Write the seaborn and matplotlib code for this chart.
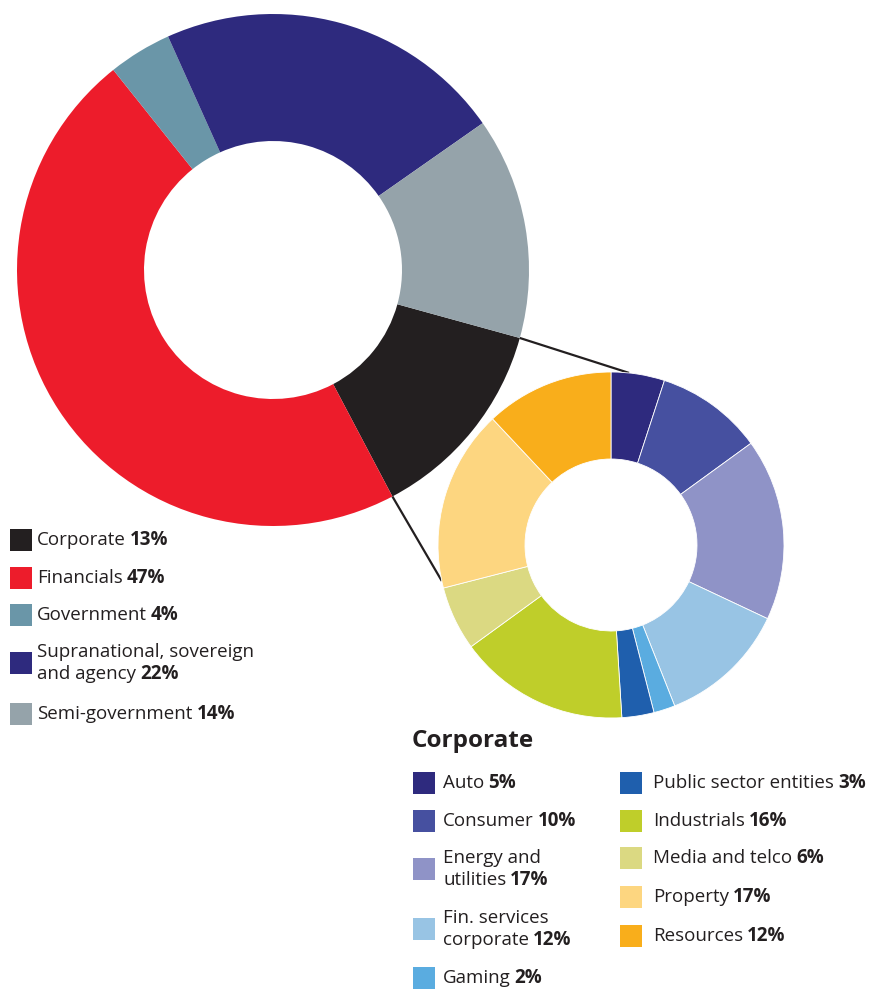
import numpy as np
import matplotlib
matplotlib.use('Agg')
import matplotlib.pyplot as plt
from matplotlib.patches import Rectangle
import seaborn as sns

# Datos del grafico
sector_names = [["Corporate"], ["Financials"], ["Government"],
                ["Supranational, sovereign", "and agency"], ["Semi-government"]]
sector_pcts = [13, 47, 4, 22, 14]
sector_colors = ["#231F20", "#ED1C2B", "#6A96A8", "#2E2A7E", "#95A3AA"]

corp_names = [["Auto"], ["Consumer"], ["Energy and", "utilities"],
              ["Fin. services", "corporate"], ["Gaming"], ["Public sector entities"],
              ["Industrials"], ["Media and telco"], ["Property"], ["Resources"]]
corp_pcts = [5, 10, 17, 12, 2, 3, 16, 6, 17, 12]
corp_colors = ["#2E2A7E", "#4650A0", "#8F93C7", "#98C4E4", "#5AACE0",
               "#1F5FAD", "#BFCE2A", "#DBD982", "#FDD680", "#F9AE1B"]

sns.set_theme(style="white")
plt.rcParams['font.family'] = ['Open Sans', 'DejaVu Sans']
TXT = "#231F20"
H = 990

fig = plt.figure(figsize=(8.71, 9.9), dpi=100)
ax = fig.add_axes([0, 0, 1, 1])

# Donut grande
big_c, big_r, big_w = (273, H - 270), 256, 127
big_start = -15.4
ax.pie(sector_pcts, colors=sector_colors, radius=big_r, center=big_c,
       startangle=big_start, counterclock=False,
       wedgeprops=dict(width=big_w, linewidth=0))

# Donut pequeño (desglose Corporate)
sm_c, sm_r, sm_w = (611, H - 545), 173, 87
ax.pie(corp_pcts, colors=corp_colors, radius=sm_r, center=sm_c,
       startangle=90, counterclock=False,
       wedgeprops=dict(width=sm_w, linewidth=0.6, edgecolor="white"))

# Lineas de conexion entre el segmento Corporate y el donut pequeño
a0 = np.radians(big_start)
a1 = np.radians(big_start - 360 * sector_pcts[0] / 100)
for a_big, a_sm in [(a0, np.radians(84)), (a1, np.radians(-168))]:
    p = (big_c[0] + big_r * np.cos(a_big), big_c[1] + big_r * np.sin(a_big))
    q = (sm_c[0] + sm_r * np.cos(a_sm), sm_c[1] + sm_r * np.sin(a_sm))
    ax.plot([p[0], q[0]], [p[1], q[1]], color=TXT, lw=1.6, zorder=0.5,
            solid_capstyle='butt')

ax.set_xlim(0, 871)
ax.set_ylim(0, H)
ax.set_aspect('equal')
ax.axis('off')

renderer = fig.canvas.get_renderer()


def text_width(s, prop):
    # ancho basado en avance (se añade una 'l' para evitar el recorte de tinta)
    w1 = renderer.get_text_width_height_descent(s + "l", prop, ismath=False)[0]
    w2 = renderer.get_text_width_height_descent("l", prop, ismath=False)[0]
    return w1 - w2


def legend_entry(bx, tx, yc, lines, pct, color, size=13.5, box=22, gap=22):
    ax.add_patch(Rectangle((bx, H - yc - box / 2), box, box, color=color, lw=0))
    n = len(lines)
    ys = [yc + (i - (n - 1) / 2) * gap for i in range(n)]
    t = None
    for line, y in zip(lines, ys):
        t = ax.text(tx, H - y, line, fontsize=size, color=TXT, va='center', ha='left')
    # texto en negrita justo despues de la ultima linea
    x_end = tx + text_width(lines[-1], t.get_fontproperties())
    ax.text(x_end + 4, H - ys[-1], f"{pct}%", fontsize=size, fontweight='bold',
            color=TXT, va='center', ha='left')


# Leyenda principal
big_rows = [540, 578, 615, 663, 714]
for name, pct, col, y in zip(sector_names, sector_pcts, sector_colors, big_rows):
    legend_entry(10, 37, y, name, pct, col)

# Leyenda Corporate
ax.text(412, H - 741, "Corporate", fontsize=17.5, fontweight='bold', color=TXT,
        va='center', ha='left')
corp_rows = [783, 821, 869, 929, 978, 783, 821, 858, 897, 936]
for i, (name, pct, col, y) in enumerate(zip(corp_names, corp_pcts, corp_colors, corp_rows)):
    if i < 5:
        legend_entry(413, 443, y, name, pct, col)
    else:
        legend_entry(620, 653, y, name, pct, col)

fig.savefig('out.png', dpi=100)
